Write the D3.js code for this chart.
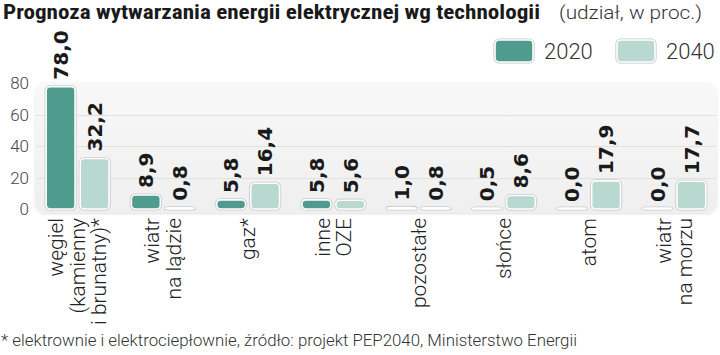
<!DOCTYPE html>
<html><head><meta charset="utf-8">
<script src="https://cdn.jsdelivr.net/npm/d3@7"></script>
<style>
html,body{margin:0;padding:0;background:#fff;}
svg{display:block;}
</style></head>
<body>
<svg id="c" width="720" height="355"></svg>
<script>
// ---- data ----
const categories = [
  ["węgiel","(kamienny","i brunatny)*"],
  ["wiatr","na lądzie"],
  ["gaz*"],
  ["inne","OZE"],
  ["pozostałe"],
  ["słońce"],
  ["atom"],
  ["wiatr","na morzu"]
];
const seriesNames = ["2020","2040"];
const values2020 = [78.0, 8.9, 5.8, 5.8, 1.0, 0.5, 0.0, 0.0];
const values2040 = [32.2, 0.8, 16.4, 5.6, 0.8, 8.6, 17.9, 17.7];
const yTicks = [0, 20, 40, 60, 80];
const titleBold = "Prognoza wytwarzania energii elektrycznej wg technologii";
const titleLight = "(udział, w proc.)";
const footnote = "* elektrownie i elektrociepłownie, źródło: projekt PEP2040, Ministerstwo Energii";

const colors = {"2020":"#4f9b8e","2040":"#b9d9d0"};
const lightFont = "Roboto, 'Open Sans', 'Liberation Sans', sans-serif";
const boldFont = "'DejaVu Sans', 'Liberation Sans', sans-serif";
const condFont = "'Roboto Condensed','Liberation Sans Narrow','DejaVu Sans Condensed','Liberation Sans',sans-serif";

const svg = d3.select("#c");
const defs = svg.append("defs");
const grad = defs.append("linearGradient").attr("id","pg").attr("x1",0).attr("y1",0).attr("x2",0).attr("y2",1);
grad.append("stop").attr("offset","0%").attr("stop-color","#f8f8f8");
grad.append("stop").attr("offset","100%").attr("stop-color","#efefef");
const flt = defs.append("filter").attr("id","ps").attr("x","-5%").attr("y","-10%").attr("width","110%").attr("height","125%");
flt.append("feDropShadow").attr("dx",0).attr("dy",1).attr("stdDeviation",1.2).attr("flood-color","#000").attr("flood-opacity",0.12);

// scales
const x0 = d3.scaleBand().domain(d3.range(categories.length)).range([35, 717]).paddingInner(0.262).paddingOuter(0.131);
const x1 = d3.scaleBand().domain(seriesNames).range([0, x0.bandwidth()]).paddingInner(0.15);
const y = d3.scaleLinear().domain([0, 80]).range([209, 83.5]);

// title
svg.append("text").attr("x",3).attr("y",19).attr("font-family",condFont).attr("font-weight","bold").attr("font-size",20)
  .attr("fill","#1a1a1a").attr("textLength",537).attr("lengthAdjust","spacingAndGlyphs").text(titleBold);
svg.append("text").attr("x",559).attr("y",19).attr("font-family",lightFont).attr("font-weight",300)
  .attr("font-size",19).attr("fill","#333").attr("textLength",143).attr("lengthAdjust","spacingAndGlyphs").text(titleLight);

// legend
const legend = svg.append("g").attr("transform","translate(495,40)");
seriesNames.forEach((s,i)=>{
  const g = legend.append("g").attr("transform",`translate(${i*122},0)`);
  g.append("rect").attr("width",38).attr("height",22).attr("rx",4).attr("fill","none").attr("stroke","#c6c6c6").attr("stroke-width",3.2);
  g.append("rect").attr("width",38).attr("height",22).attr("rx",4).attr("fill",colors[s]).attr("stroke","#fff").attr("stroke-width",1.6);
  g.append("text").attr("x",49).attr("y",11).attr("dy","0.36em").attr("font-family",lightFont).attr("font-weight",300)
    .attr("font-size",22).attr("fill","#333").text(s);
});

// panel
svg.append("rect").attr("x",35).attr("y",82).attr("width",682).attr("height",131).attr("rx",10)
  .attr("fill","url(#pg)").attr("filter","url(#ps)");

// gridlines
svg.append("g").selectAll("line").data(yTicks.filter(d=>d>0 && d<80)).join("line")
  .attr("x1",36).attr("x2",716).attr("y1",d=>Math.round(y(d))+0.5).attr("y2",d=>Math.round(y(d))+0.5)
  .attr("stroke","#e1e1e1").attr("stroke-width",1);

// y axis
const yAxis = d3.axisLeft(y).tickValues(yTicks).tickSize(0).tickPadding(0).tickFormat(d3.format("d"));
const ya = svg.append("g").attr("transform","translate(29,0)").call(yAxis);
ya.select(".domain").remove();
ya.selectAll("text").attr("font-family",lightFont).attr("font-weight",300).attr("font-size",17).attr("fill","#444");

// bars
const rows = categories.map((c,i)=>({i, vals:[{s:"2020",v:values2020[i]},{s:"2040",v:values2040[i]}]}));
const groups = svg.append("g").selectAll("g").data(rows).join("g")
  .attr("transform",d=>`translate(${x0(d.i)},0)`);
const bh = v => Math.max(y(0)-y(v), 1);
groups.selectAll("rect.o").data(d=>d.vals).join("rect").attr("class","o")
  .attr("x",d=>x1(d.s)).attr("y",d=>y(0)-bh(d.v)).attr("width",x1.bandwidth()).attr("height",d=>bh(d.v))
  .attr("rx",4).attr("fill","none").attr("stroke","#c9c9c9").attr("stroke-width",3.2);
groups.selectAll("rect.b").data(d=>d.vals).join("rect").attr("class","b")
  .attr("x",d=>x1(d.s)).attr("y",d=>y(0)-bh(d.v)).attr("width",x1.bandwidth()).attr("height",d=>bh(d.v))
  .attr("rx",4).attr("fill",d=>colors[d.s]).attr("stroke","#fff").attr("stroke-width",1.6);

// value labels
const fmt = v => d3.format(".1f")(v).replace(".",",");
groups.selectAll("text.v").data(d=>d.vals).join("text").attr("class","v")
  .attr("transform",d=>`translate(${x1(d.s)+x1.bandwidth()/2},${y(d.v)-7}) rotate(-90)`)
  .attr("dy","0.36em").attr("text-anchor","start")
  .attr("font-family",boldFont).attr("font-weight","bold").attr("font-size",20).attr("fill","#1a1a1a")
  .text(d=>fmt(d.v));

// category labels
const lh = 21.5;
svg.append("g").selectAll("text").data(categories).join("text")
  .attr("transform",(d,i)=>`translate(${x0(i)+x0.bandwidth()/2},218) rotate(-90)`)
  .attr("text-anchor","end").attr("font-family",lightFont).attr("font-weight",300).attr("font-size",21).attr("fill","#222")
  .each(function(lines){
    const t = d3.select(this);
    lines.forEach((ln,k)=>{
      t.append("tspan").attr("x",0).attr("y",(k-(lines.length-1)/2)*lh).attr("dy","0.33em").text(ln);
    });
  });

// footnote
svg.append("text").attr("x",1).attr("y",346).attr("font-family",lightFont).attr("font-weight",300)
  .attr("font-size",17).attr("fill","#333").attr("textLength",576).attr("lengthAdjust","spacingAndGlyphs").text(footnote);
</script>
</body></html>
